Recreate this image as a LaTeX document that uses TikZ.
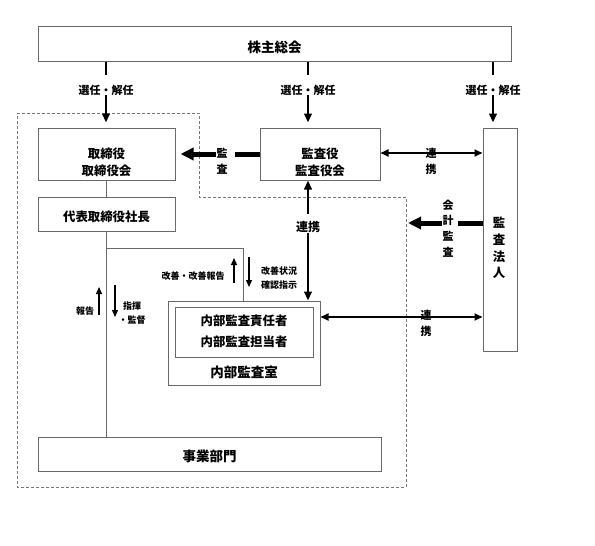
\documentclass[tikz,border=0pt]{standalone}
\usepackage{fontspec}
\usepackage{tikz}
\usetikzlibrary{arrows.meta,positioning}
\newfontfamily\jpfont{Noto Sans CJK JP}
\definecolor{hai}{RGB}{105,105,105}
\definecolor{usuhai}{RGB}{120,120,120}
\tikzset{
  hako/.style={rectangle,draw=hai,line width=1pt,inner sep=0pt},
  moji/.style={font=\jpfont\bfseries\fontsize{12.4}{16.7}\selectfont,align=center,inner sep=0pt},
  omoji/.style={font=\jpfont\bfseries\fontsize{13.5}{16}\selectfont,inner sep=0pt},
  lab/.style={font=\jpfont\bfseries\fontsize{11}{16}\selectfont,align=center,inner sep=0pt},
  kolab/.style={font=\jpfont\bfseries\fontsize{9}{13.5}\selectfont,align=center,inner sep=0pt},
  sen/.style={draw=hai,line width=1pt},
  tensen/.style={draw=usuhai,line width=0.9pt,dash pattern=on 3pt off 2pt},
  ya/.style={-{Triangle[length=9pt,width=7.5pt]},line width=2.2pt},
  ryo/.style={{Triangle[length=8pt,width=7pt]}-{Triangle[length=8pt,width=7pt]},line width=1.8pt},
  futo/.style={line width=5pt},
  futoya/.style={-{Triangle[length=13pt,width=12pt]},line width=5pt},
  hosoya/.style={-{Triangle[length=7pt,width=6pt]},line width=1.3pt}
}
\begin{document}
\begin{tikzpicture}[x=1pt,y=-1pt]
  \useasboundingbox (0,0) rectangle (595,546);
  \draw[tensen] (17,113) -- (199,113) -- (199,197) -- (406,197) -- (406,487) -- (17,487) -- cycle;

  \node[hako,minimum width=473pt,minimum height=35pt] (soukai) at (274.5,43.5) {};
  \node[omoji] (soukai-t) at (274.5,47) {株主総会};
  \node[hako,minimum width=137pt,minimum height=52pt] (torishimari) at (106.5,154) {};
  \node[moji] (torishimari-t) at (106.5,162) {取締役\\取締役会};
  \node[hako,minimum width=137pt,minimum height=34pt] (daihyo) at (106.5,214) {};
  \node[moji] (daihyo-t) at (106.5,217) {代表取締役社長};
  \node[hako,minimum width=120pt,minimum height=52pt] (kansayaku) at (320,154) {};
  \node[moji] (kansayaku-t) at (320,162) {監査役\\監査役会};
  \node[hako,minimum width=34pt,minimum height=223pt] (hojin) at (500,239.5) {};
  \node[moji] (hojin-t) at (499,248) {監\\査\\法\\人};
  \node[hako,minimum width=152pt,minimum height=84pt] (naibu) at (244,343) {};
  \node[hako,minimum width=138pt,minimum height=50pt] (sekinin) at (244,332) {};
  \node[moji,font=\jpfont\bfseries\fontsize{12.4}{21}\selectfont] (sekinin-t) at (244,331.5) {内部監査責任者\\内部監査担当者};
  \node[omoji] (naibu-t) at (244,372) {内部監査室};
  \node[hako,minimum width=343pt,minimum height=34pt] (jigyo) at (209.5,454) {};
  \node[omoji] (jigyo-t) at (209.5,456) {事業部門};

  \foreach \x/\nm/\saki in {106/s1/torishimari,308/s2/kansayaku,493/s3/hojin} {
    \node[lab] (\nm) at (\x,90) {選任・解任};
    \draw[line width=2.2pt] (soukai.south -| \nm) -- ++(0,13);
    \draw[ya,shorten >=5pt] (\nm.south) -- (\saki.north -| \nm);
  }

  \node[lab] (kansa) at (222,161.5) {監\\査};
  \draw[futo,shorten >=7pt] (kansayaku.west) -- (kansa.east |- kansayaku.west);
  \draw[futoya,shorten >=5pt] (kansa.west |- torishimari.east) -- (torishimari.east);

  \node[lab] (renkei1) at (431,161) {連\\携};
  \draw[ryo] (kansayaku.east |- 0,153) -- (hojin.west |- 0,153);

  \node[lab,font=\jpfont\bfseries\fontsize{12}{16}\selectfont] (renkei2) at (308,227) {連携};
  \draw[ya,shorten <=7pt] (renkei2.north) -- (kansayaku.south -| renkei2);
  \draw[ya] (renkei2.south) -- (naibu.north -| renkei2);

  \node[lab,font=\jpfont\bfseries\fontsize{11}{15.7}\selectfont] (kaikei) at (448,228.5) {会\\計\\監\\査};
  \coordinate (kaikei-saki) at (408,223);
  \draw[futo,shorten >=4pt] (hojin.west |- kaikei-saki) -- (kaikei.east |- kaikei-saki);
  \draw[futoya] (kaikei.west |- kaikei-saki) -- (kaikei-saki);

  \coordinate (r3) at (426,317);
  \node[lab] (renkei3) at (426,323) {連\\携};
  \draw[ryo] (r3 -| naibu.east) -- (r3 -| hojin.west);

  \coordinate (bunki) at (106.5,248);
  \draw[sen] (torishimari.south) -- (daihyo.north);
  \draw[sen] (daihyo.south) -- (jigyo.north -| daihyo.south);
  \draw[sen] (bunki) -| ([xshift=-1pt]naibu.north);

  \node[kolab] (houkoku) at (85,311) {報告};
  \draw[hosoya] (99,315) -- (99,287);
  \node[kolab] (shiki) at (132,313) {指揮\\・監督};
  \draw[hosoya] (115,285) -- (115,317);
  \node[kolab] (kaizen) at (193,276) {改善・改善報告};
  \draw[hosoya] (234,283) -- (234,258);
  \node[kolab] (kakunin) at (279,278) {改善状況\\確認指示};
  \draw[hosoya] (249,257) -- (249,287);
\end{tikzpicture}
\end{document}
